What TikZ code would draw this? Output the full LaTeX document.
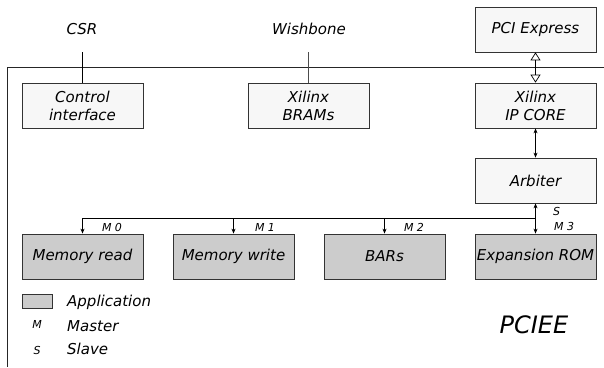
\documentclass[tikz,border=0pt]{standalone}
\usepackage{fontspec}
\setmainfont{DejaVu Sans}
\usetikzlibrary{arrows.meta}
\begin{document}
\begin{tikzpicture}[x=1pt,y=-1pt,
  blk/.style={draw=black!80, line width=0.8pt, minimum width=121pt, minimum height=45pt, align=center, inner sep=0pt, font=\itshape\fontsize{15}{18}\selectfont},
  wbox/.style={blk, fill=black!3},
  abox/.style={blk, fill=black!20},
  lbl/.style={font=\itshape\fontsize{15}{18}\selectfont, inner sep=0pt},
  sml/.style={font=\itshape\fontsize{11}{13}\selectfont, inner sep=0pt},
  conn/.style={line width=0.7pt, black},
  arr/.style={conn, -{Stealth[length=5pt,width=4pt]}},
  darr/.style={conn, {Stealth[length=5pt,width=4pt]}-{Stealth[length=5pt,width=4pt]}},
  oarr/.style={conn, {Triangle[open,length=8pt,width=10pt]}-{Triangle[open,length=8pt,width=10pt]}}]
\useasboundingbox (0,0) rectangle (604,367);
\fill[white] (0,0) rectangle (604,367);
% frame
\draw[black!85, line width=0.8pt] (604,67) -- (7,67) -- (7,367);
% boxes
\node[wbox] (ctl) at (82.5,105.5) {Control\\interface};
\node[wbox] (bram) at (308.5,105.5) {Xilinx\\BRAMs};
\node[wbox] (pcie) at (535.5,29.5) {PCI Express};
\node[wbox] (ip) at (535.5,105.5) {Xilinx\\IP CORE};
\node[wbox] (arb) at (535.5,180.5) {Arbiter};
\node[abox] (rom) at (535.5,256.5) {Expansion ROM};
\node[abox] (bars) at (384.5,256.5) {BARs};
\node[abox] (mr) at (82.5,256.5) {Memory read};
\node[abox] (mw) at (233.5,256.5) {Memory write};
% external labels
\node[lbl] (csr) at (82,29) {CSR};
\node[lbl] (wb) at (309,29) {Wishbone};
\coordinate (csrend) at (82,52);
\coordinate (wbend) at (308.5,52);
\draw[conn] (csrend) -- (csrend|-ctl.north);
\draw[conn, black!70] (wbend) -- (bram.north);
% PCI links
\draw[oarr] (pcie.south) -- (ip.north);
\draw[darr] (ip.south) -- (arb.north);
\draw[darr] (arb.south) -- (rom.north);
% bus
\coordinate (busR) at (535.5,218);
\draw[arr] (busR) -| (mr.north);
\draw[arr] (mw.north|-busR) -- (mw.north);
\draw[arr] (bars.north|-busR) -- (bars.north);
% bus labels
\node[sml] (m0) at (112,227) {M 0};
\node[sml] (m1) at (265,227) {M 1};
\node[sml] (m2) at (414,227) {M 2};
\node[sml, anchor=west] (s) at (553,211) {S};
\node[sml, anchor=west] (m3) at (554,226) {M 3};
% legend
\node[draw=black!80, line width=0.8pt, fill=black!20, minimum width=30pt, minimum height=14pt, inner sep=0pt] (lg) at (37,301) {};
\node[lbl, anchor=west] (lapp) at (67,302) {Application};
\node[sml] (lm) at (37,324) {M};
\node[lbl, anchor=west] (lmas) at (67,326) {Master};
\node[sml] (ls) at (37,350) {S};
\node[lbl, anchor=west] (lsl) at (67,349) {Slave};
\node[font=\itshape\fontsize{24}{28}\selectfont, inner sep=0pt] (pciee) at (534,325) {PCIEE};
\end{tikzpicture}
\end{document}
